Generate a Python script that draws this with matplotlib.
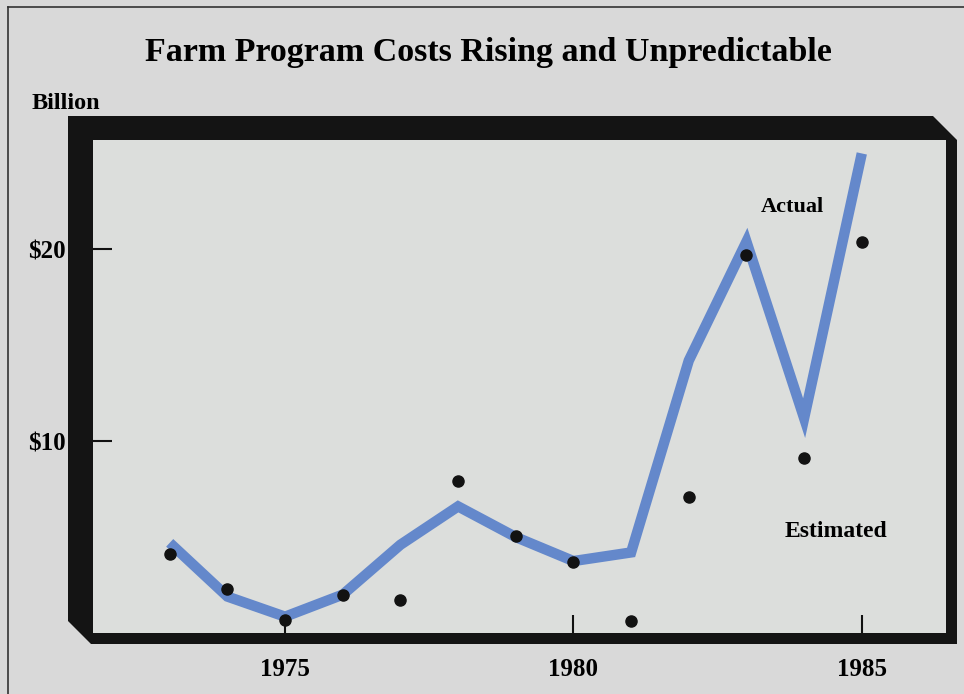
import matplotlib
matplotlib.use('Agg')
import matplotlib.pyplot as plt
from matplotlib.patches import Polygon

plt.rcParams['font.family'] = 'Liberation Serif'
plt.rcParams['font.weight'] = 'bold'

# data (billion dollars)
years = [1973, 1974, 1975, 1976, 1977, 1978, 1979, 1980, 1981, 1982, 1983, 1984, 1985]
actual = [4.7, 1.9, 0.85, 2.0, 4.6, 6.6, 5.0, 3.75, 4.2, 14.2, 20.4, 11.2, 25.0]
estimated = [4.1, 2.3, 0.7, 2.0, 1.7, 7.9, 5.05, 3.7, 0.6, 7.1, 19.7, 9.1, 20.4]
x_ticks = [1975, 1980, 1985]
y_ticks = [10, 20]
y_tick_labels = ['$10', '$20']

W, H = 964, 694
fig = plt.figure(figsize=(W / 100, H / 100), dpi=100)
fig.patch.set_facecolor('#d9d9d9')

# background layer in pixel coords: page border and the heavy 3-D frame
bg = fig.add_axes([0, 0, 1, 1])
bg.set_xlim(0, W)
bg.set_ylim(H, 0)
bg.axis('off')
bg.plot([8, W], [7, 7], color='#333333', lw=1.2)
bg.plot([8, 8], [7, H], color='#333333', lw=1.2)
frame = [(68, 116), (933, 116), (957, 140), (957, 644), (91, 644), (68, 621)]
bg.add_patch(Polygon(frame, closed=True, facecolor='#141414', edgecolor='none'))

# plot area inside the frame
ax = fig.add_axes([93 / W, (H - 633) / H, (946 - 93) / W, (633 - 140) / H])
ax.set_facecolor('#dcdedc')
ax.set_xlim(1971.67, 1986.46)
ax.set_ylim(0, 25.7)

ax.plot(years, actual, color='#6488cb', lw=7.5,
        solid_capstyle='butt', solid_joinstyle='miter', zorder=2)
ax.plot(years, estimated, 'o', color='#121212', ms=8, zorder=3)

ax.set_xticks(x_ticks)
ax.set_xticklabels([str(x) for x in x_ticks])
ax.set_yticks(y_ticks)
ax.set_yticklabels(y_tick_labels)
ax.tick_params(axis='x', direction='in', length=13, width=1.5, pad=18,
               labelsize=18, color='#111111')
ax.tick_params(axis='y', direction='in', length=14, width=1.5, pad=20,
               labelsize=18, color='#111111')
for s in ax.spines.values():
    s.set_visible(False)

ax.text(1983.8, 22.2, 'Actual', fontsize=16, ha='center', va='center')
ax.text(1984.55, 5.3, 'Estimated', fontsize=17, ha='center', va='center')

fig.text(488 / W, 1 - 61 / H, 'Farm Program Costs Rising and Unpredictable',
         fontsize=24.5, ha='center', va='baseline')
fig.text(32 / W, 1 - 109 / H, 'Billion', fontsize=17.5, ha='left', va='baseline')

fig.savefig('out.png', dpi=100, facecolor=fig.get_facecolor())
